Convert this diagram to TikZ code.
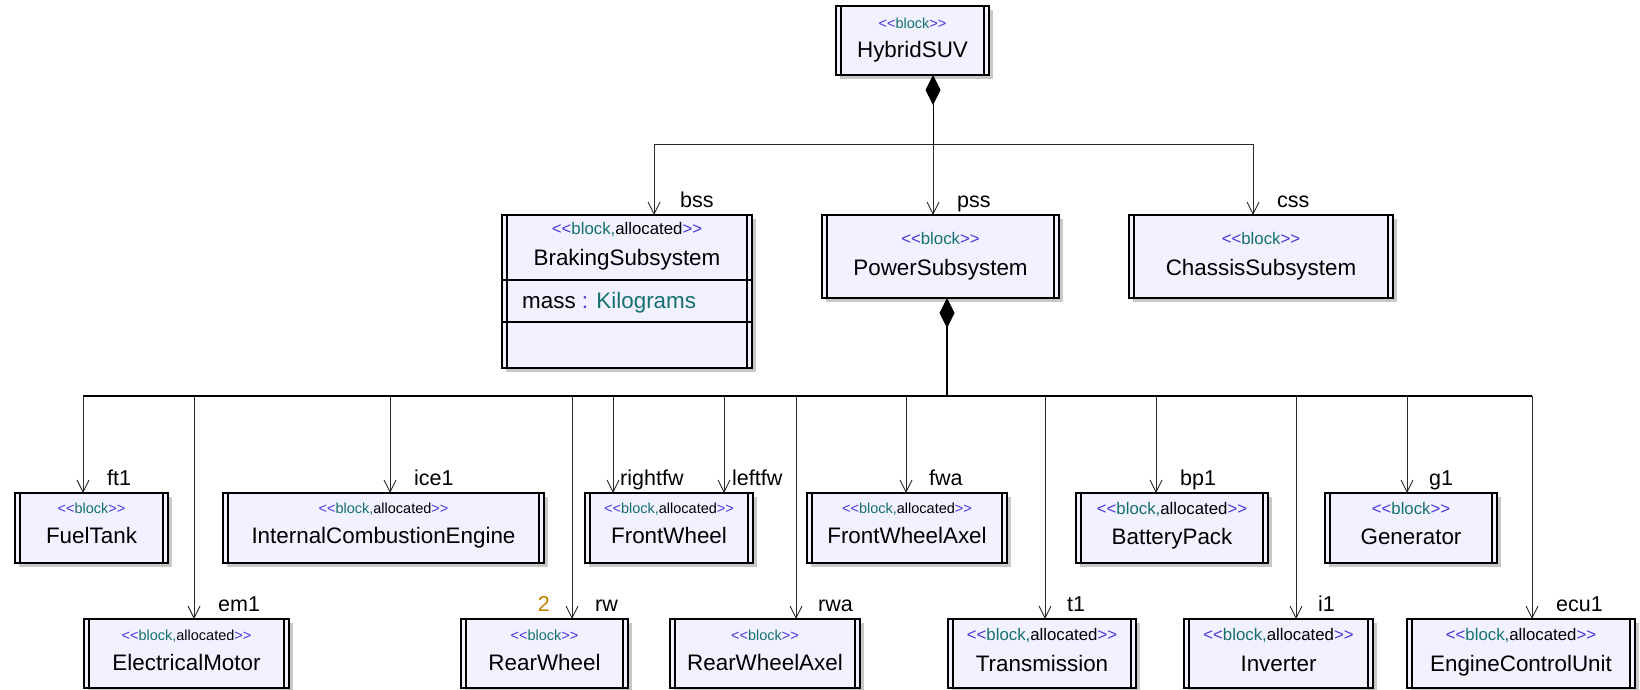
\documentclass[tikz,border=0pt]{standalone}
\usepackage{fontspec}
\setmainfont{Liberation Sans}
\usetikzlibrary{arrows.meta,shadows,calc}

\definecolor{blockfill}{RGB}{241,241,255}
\definecolor{sblue}{RGB}{72,52,220}
\definecolor{steal}{RGB}{22,112,112}
\definecolor{shade}{RGB}{200,200,200}
\definecolor{multcol}{RGB}{196,128,0}
\definecolor{wire}{RGB}{40,40,40}

% stereotype labels
\newcommand{\stB}{\textcolor{sblue}{<\kern0pt<}\textcolor{steal}{block}\textcolor{sblue}{>\kern0pt>}}
\newcommand{\stBA}{\textcolor{sblue}{<\kern0pt<}\textcolor{steal}{block,}allocated\textcolor{sblue}{>\kern0pt>}}

\tikzset{
  sysml/.style={draw=black, line width=1.3pt, fill=blockfill, inner sep=0pt, outer sep=0pt,
    drop shadow={shadow xshift=4pt, shadow yshift=-4pt, fill=shade, opacity=1},
    path picture={
      \draw[line width=1.1pt] ([xshift=5pt]path picture bounding box.north west) -- ([xshift=5pt]path picture bounding box.south west);
      \draw[line width=1.1pt] ([xshift=-5pt]path picture bounding box.north east) -- ([xshift=-5pt]path picture bounding box.south east);}},
  stsmall/.style={inner sep=0pt, font=\fontsize{14.5}{16}\selectfont, anchor=base},
  stlarge/.style={inner sep=0pt, font=\fontsize{16.8}{19}\selectfont, anchor=base},
  nm/.style={inner sep=0pt, font=\fontsize{22.4}{26}\selectfont, anchor=base},
  lbl/.style={inner sep=0pt, font=\fontsize{21.5}{25}\selectfont, anchor=base west},
  wireline/.style={draw=wire, line width=0.9pt},
  arr/.style={wireline, -{Straight Barb[length=12pt, width=12pt, line width=0.9pt]}},
  comp/.style={draw=black, {Diamond[length=30pt, width=15pt, line width=0.5pt]}-},
}

% block box: name, left, top, right, bottom (pixel grid, y downwards)
\newcommand{\Blk}[5]{\node[sysml, minimum width={(#4-#2)*1pt}, minimum height={(#5-#3)*1pt}] (#1) at ({(#2+#4)/2},{(#3+#5)/2}) {};}
% block texts: box, stereotype, style, stereotype baseline, name, name baseline
\newcommand{\Txt}[6]{%
  \node[#3] (#1s) at ($(#1.north)+(0,#4)$) {#2};
  \node[nm] (#1n) at ($(#1.north)+(0,#6)$) {#5};}
% part connector: junction, target box, label name, label text, label offset
\newcommand{\Part}[5]{%
  \draw[arr] (#1) -- (#1 |- #2.north);
  \node[lbl] (#3) at ($(#1 |- #2.north)+(#5,-8)$) {#4};}

\begin{document}
\begin{tikzpicture}[x=1pt, y=-1pt]
\path[use as bounding box, fill=white] (0,0) rectangle (1640,689);

% ---- blocks
\Blk{suv}{836}{6}{989}{75}
\Blk{bss}{502}{215}{752}{368}
\Blk{pss}{822}{215}{1059}{298}
\Blk{css}{1129}{215}{1393}{298}
\Blk{ft}{15}{493}{168}{563}
\Blk{ice}{223}{493}{544}{563}
\Blk{fw}{585}{493}{753}{563}
\Blk{fwa}{807}{493}{1007}{563}
\Blk{bp}{1076}{493}{1268}{563}
\Blk{gen}{1325}{493}{1497}{563}
\Blk{em}{84}{619}{289}{688}
\Blk{rw}{461}{619}{628}{688}
\Blk{rwa}{670}{619}{860}{688}
\Blk{tr}{948}{619}{1136}{688}
\Blk{inv}{1184}{619}{1373}{688}
\Blk{ecu}{1407}{619}{1635}{688}

% compartments of the braking subsystem
\draw[line width=1.3pt] ($(bss.north west)+(0,65)$) -- ($(bss.north east)+(0,65)$);
\draw[line width=1.3pt] ($(bss.north west)+(0,107)$) -- ($(bss.north east)+(0,107)$);
\node[nm, anchor=base west] (bssA) at ($(bss.north west)+(20,93)$) {mass \textcolor{sblue}{:} \textcolor{steal}{Kilograms}};

% ---- texts
\Txt{suv}{\stB}{stsmall}{22}{HybridSUV}{51}
\Txt{bss}{\stBA}{stlarge}{19}{BrakingSubsystem}{50}
\Txt{pss}{\stB}{stlarge}{29}{PowerSubsystem}{60}
\Txt{css}{\stB}{stlarge}{29}{ChassisSubsystem}{60}
\Txt{ft}{\stB}{stsmall}{20}{FuelTank}{50}
\Txt{ice}{\stBA}{stsmall}{20}{InternalCombustionEngine}{50}
\Txt{fw}{\stBA}{stsmall}{20}{FrontWheel}{50}
\Txt{fwa}{\stBA}{stsmall}{20}{FrontWheelAxel}{50}
\Txt{bp}{\stBA}{stlarge}{21}{BatteryPack}{51}
\Txt{gen}{\stB}{stlarge}{21}{Generator}{51}
\Txt{em}{\stBA}{stsmall}{21}{ElectricalMotor}{51}
\Txt{rw}{\stB}{stsmall}{21}{RearWheel}{51}
\Txt{rwa}{\stB}{stsmall}{21}{RearWheelAxel}{51}
\Txt{tr}{\stBA}{stlarge}{21}{Transmission}{52}
\Txt{inv}{\stBA}{stlarge}{21}{Inverter}{52}
\Txt{ecu}{\stBA}{stlarge}{21}{EngineControlUnit}{52}

% ---- HybridSUV composition
\coordinate (topY) at (0,144);
\coordinate (busY) at (0,396);
\coordinate (suvD) at ([xshift=20.5pt]suv.south);
\coordinate (bssJ) at (654,144);
\coordinate (pssJ) at (suvD |- topY);
\coordinate (cssJ) at (1253,144);
\draw[comp, line width=0.9pt] (suvD) -- (pssJ);
\draw[wireline] (bssJ) -- (cssJ);
\Part{bssJ}{bss}{bssL}{bss}{26}
\Part{pssJ}{pss}{pssL}{pss}{24}
\Part{cssJ}{css}{cssL}{css}{24}

% ---- PowerSubsystem composition
\coordinate (pssD) at ([xshift=6.5pt]pss.south);
\coordinate (pssT) at (pssD |- busY);
\draw[comp, line width=1.8pt] (pssD) -- (pssT);
\coordinate (ftJ) at (83,396);
\coordinate (emJ) at (194,396);
\coordinate (iceJ) at (390,396);
\coordinate (rwJ) at (572,396);
\coordinate (rfwJ) at (613,396);
\coordinate (lfwJ) at (724,396);
\coordinate (rwaJ) at (796,396);
\coordinate (fwaJ) at (906,396);
\coordinate (trJ) at (1045,396);
\coordinate (bpJ) at (1156,396);
\coordinate (invJ) at (1296,396);
\coordinate (genJ) at (1407,396);
\coordinate (ecuJ) at (1532,396);
\draw[draw=black, line width=1.6pt] (ftJ) -- (ecuJ);

\Part{ftJ}{ft}{ftL}{ft1}{24}
\Part{emJ}{em}{emL}{em1}{24}
\Part{iceJ}{ice}{iceL}{ice1}{24}
\Part{rwJ}{rw}{rwL}{rw}{23}
\Part{rfwJ}{fw}{rfwL}{rightfw}{7}
\Part{lfwJ}{fw}{lfwL}{leftfw}{8}
\Part{rwaJ}{rwa}{rwaL}{rwa}{22}
\Part{fwaJ}{fwa}{fwaL}{fwa}{23}
\Part{trJ}{tr}{trL}{t1}{22}
\Part{bpJ}{bp}{bpL}{bp1}{24}
\Part{invJ}{inv}{invL}{i1}{22}
\Part{genJ}{gen}{genL}{g1}{22}
\Part{ecuJ}{ecu}{ecuL}{ecu1}{24}
\node[lbl, anchor=base east, text=multcol] (rwM) at ($(rwJ |- rw.north)+(-22,-8)$) {2};

\end{tikzpicture}
\end{document}
